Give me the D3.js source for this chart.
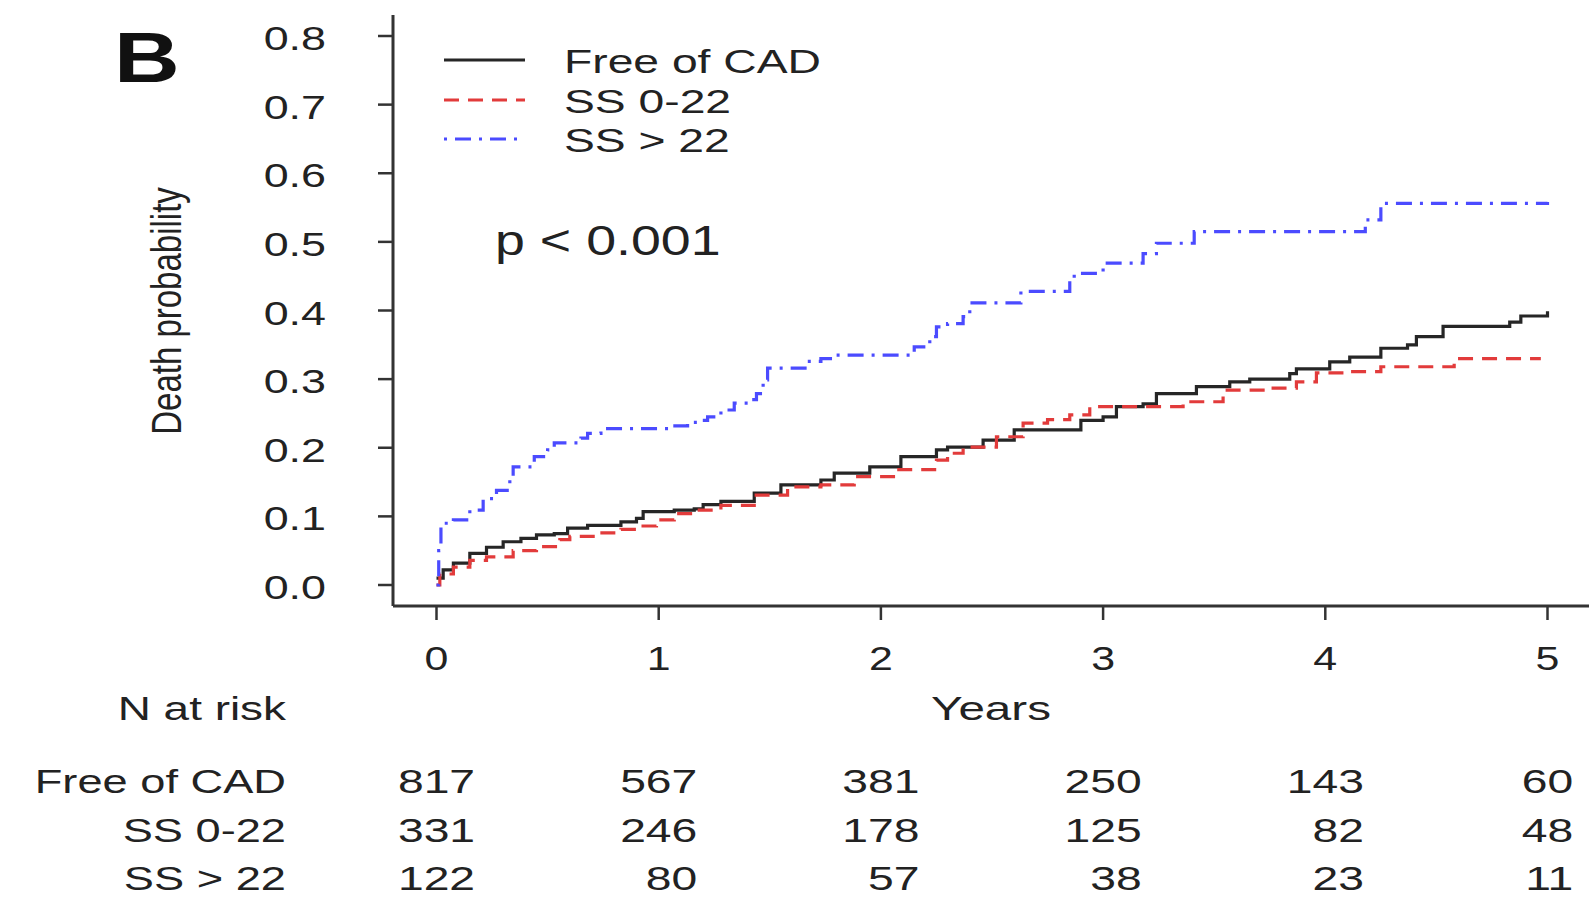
<!DOCTYPE html>
<html>
<head>
<meta charset="utf-8">
<script src="https://cdnjs.cloudflare.com/ajax/libs/d3/7.8.5/d3.min.js"></script>
<style>
  html, body { margin: 0; padding: 0; background: #fff; }
  svg text { font-family: "Liberation Sans", Arial, sans-serif; fill: #222; }
</style>
</head>
<body>
<div id="chart"></div>
<script>
'use strict';

// ── Dados ───────────────────────────────────────────────────────────────────
const groups = ['Free of CAD', 'SS 0-22', 'SS > 22'];
const yearTicks = [0, 1, 2, 3, 4, 5];
const probTicks = [0, 0.1, 0.2, 0.3, 0.4, 0.5, 0.6, 0.7, 0.8];

const freeTime = [0, 0.03, 0.076, 0.15, 0.225, 0.30, 0.38, 0.45, 0.53, 0.59, 0.68, 0.83, 0.90, 0.93,
  1.07, 1.16, 1.20, 1.28, 1.43, 1.55, 1.73, 1.79, 1.95, 2.09, 2.25, 2.30, 2.46, 2.60, 2.90, 3.0,
  3.06, 3.18, 3.24, 3.42, 3.57, 3.66, 3.84, 3.87, 4.02, 4.11, 4.25, 4.37, 4.41, 4.53, 4.83, 4.88, 5.0];
const freeProb = [0.01, 0.022, 0.032, 0.046, 0.055, 0.063, 0.068, 0.073, 0.075, 0.083, 0.087, 0.092, 0.097, 0.107,
  0.109, 0.111, 0.117, 0.122, 0.134, 0.146, 0.153, 0.163, 0.172, 0.187, 0.197, 0.201, 0.211, 0.226, 0.240, 0.245,
  0.26, 0.264, 0.279, 0.289, 0.296, 0.30, 0.308, 0.315, 0.325, 0.332, 0.345, 0.35, 0.362, 0.377, 0.383, 0.392, 0.399];

const lowTime = [0, 0.015, 0.076, 0.15, 0.225, 0.345, 0.45, 0.555, 0.60, 0.705, 0.83, 0.90, 0.99, 1.07,
  1.16, 1.28, 1.43, 1.58, 1.73, 1.88, 2.07, 2.25, 2.30, 2.37, 2.52, 2.64, 2.75, 2.85, 2.94, 3.36,
  3.54, 3.72, 3.87, 3.96, 4.10, 4.25, 4.58, 4.97];
const lowProb = [0, 0.016, 0.026, 0.036, 0.041, 0.050, 0.056, 0.066, 0.071, 0.076, 0.081, 0.086, 0.095, 0.104,
  0.109, 0.116, 0.131, 0.143, 0.146, 0.158, 0.168, 0.182, 0.192, 0.201, 0.216, 0.236, 0.241, 0.248, 0.26, 0.267,
  0.284, 0.287, 0.296, 0.309, 0.311, 0.318, 0.33, 0.33];

const highTime = [0, 0.01, 0.02, 0.076, 0.15, 0.21, 0.27, 0.33, 0.345, 0.44, 0.50, 0.53, 0.65, 0.68, 0.74,
  1.05, 1.13, 1.19, 1.22, 1.28, 1.34, 1.41, 1.44, 1.47, 1.49, 1.67, 1.73, 1.80, 2.15, 2.22, 2.25,
  2.30, 2.37, 2.40, 2.63, 2.85, 2.87, 2.99, 3.0, 3.18, 3.24, 3.41, 4.18, 4.25, 5.0];
const highProb = [0, 0.05, 0.09, 0.095, 0.109, 0.126, 0.138, 0.153, 0.172, 0.187, 0.197, 0.207, 0.214, 0.221, 0.228,
  0.232, 0.237, 0.24, 0.245, 0.255, 0.265, 0.27, 0.279, 0.299, 0.316, 0.326, 0.33, 0.335, 0.347, 0.362, 0.376,
  0.381, 0.391, 0.411, 0.428, 0.445, 0.454, 0.459, 0.469, 0.483, 0.498, 0.515, 0.532, 0.556, 0.558];

const freeAtRisk = [817, 567, 381, 250, 143, 60];
const lowAtRisk = [331, 246, 178, 125, 82, 48];
const highAtRisk = [122, 80, 57, 38, 23, 11];

// ── Layout ──────────────────────────────────────────────────────────────────
const W = 1589, H = 901;
const SX = 1.3;          // a figura original está esticada na horizontal
const FS = 33;
const ink = '#333';

const series = [
  { name: groups[0], t: freeTime, p: freeProb, color: '#262626', dash: null },
  { name: groups[1], t: lowTime, p: lowProb, color: '#e23b3b', dash: '15,9' },
  { name: groups[2], t: highTime, p: highProb, color: '#4b4bff', dash: '3,8,16,8' }
];
const riskRows = [freeAtRisk, lowAtRisk, highAtRisk];

const svg = d3.select('#chart').append('svg')
  .attr('width', W)
  .attr('height', H);

const x = d3.scaleLinear().domain([0, 5]).range([436.5, 1547.5]);
const y = d3.scaleLinear().domain([0, 0.8]).range([585, 36]);

function label(g, txt, px, py, opts = {}) {
  const fs = opts.size || FS;
  const sx = opts.sx || SX;
  const t = g.append('text')
    .attr('transform', `translate(${px},${py}) scale(${sx},1)` + (opts.rotate ? ` rotate(${opts.rotate})` : ''))
    .attr('font-size', fs)
    .attr('text-anchor', opts.anchor || 'start')
    .text(txt);
  if (opts.bold) t.attr('font-weight', 'bold');
  return t;
}

// Eixos
const axisX = 393, axisY = 606;
svg.append('line').attr('x1', axisX).attr('x2', axisX).attr('y1', 15).attr('y2', axisY)
  .attr('stroke', ink).attr('stroke-width', 3);
svg.append('line').attr('x1', axisX).attr('x2', W).attr('y1', axisY).attr('y2', axisY)
  .attr('stroke', ink).attr('stroke-width', 3);

probTicks.forEach(v => {
  svg.append('line').attr('x1', axisX - 15).attr('x2', axisX).attr('y1', y(v)).attr('y2', y(v))
    .attr('stroke', ink).attr('stroke-width', 2.5);
  label(svg, d3.format('.1f')(v), 326, y(v) + 14, { anchor: 'end', size: 34, sx: 1.32 });
});

yearTicks.forEach(v => {
  svg.append('line').attr('x1', x(v)).attr('x2', x(v)).attr('y1', axisY).attr('y2', axisY + 14)
    .attr('stroke', ink).attr('stroke-width', 2.5);
  label(svg, String(v), x(v), 670, { anchor: 'middle', size: 33 });
});

label(svg, 'Years', 991, 720, { anchor: 'middle', size: 34, sx: 1.4 });
label(svg, 'Death probability', 181, 311, { anchor: 'middle', rotate: -90 });
label(svg, 'B', 114, 82, { size: 70, bold: true }).style('fill', '#111');
label(svg, 'p < 0.001', 495, 255, { size: 42, sx: 1.28 });

// Curvas (Kaplan-Meier em degraus)
const line = d3.line()
  .x(d => x(d[0]))
  .y(d => y(d[1]))
  .curve(d3.curveStepAfter);

series.forEach(s => {
  const pts = s.t.map((t, i) => [t, s.p[i]]);
  const path = svg.append('path')
    .datum(pts)
    .attr('d', line)
    .attr('fill', 'none')
    .attr('stroke', s.color)
    .attr('stroke-width', 3.2);
  if (s.dash) path.attr('stroke-dasharray', s.dash);
});

// Legenda
const legY = [60, 100, 139];
series.forEach((s, i) => {
  const l = svg.append('line')
    .attr('x1', 444).attr('x2', 525)
    .attr('y1', legY[i]).attr('y2', legY[i])
    .attr('stroke', s.color).attr('stroke-width', 3.2);
  if (s.dash) l.attr('stroke-dasharray', s.dash);
  label(svg, s.name, 564, legY[i] + 13, { size: 34, sx: 1.36 });
});

// Tabela N at risk
const TS = 34, TSX = 1.36;
label(svg, 'N at risk', 286, 720, { anchor: 'end', size: 34, sx: 1.35 });
const rowY = [793, 842, 890];
const digitW = 0.556 * TS * TSX;
groups.forEach((g, r) => {
  label(svg, g, 286, rowY[r], { anchor: 'end', size: TS, sx: 1.33 });
});
yearTicks.forEach((v, c) => {
  const col = riskRows.map(row => row[c]);
  const nd = d3.max(col, n => String(n).length);
  col.forEach((n, r) => {
    label(svg, String(n), x(v) + nd * digitW / 2, rowY[r], { anchor: 'end', size: TS, sx: TSX });
  });
});
</script>
</body>
</html>
